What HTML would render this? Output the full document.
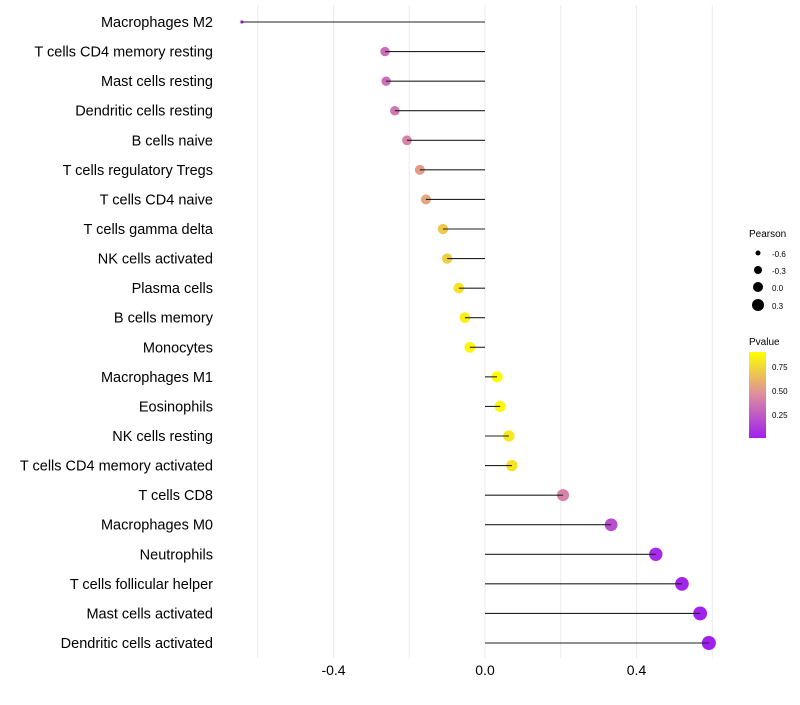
<!DOCTYPE html>
<html><head><meta charset="utf-8"><style>
body{margin:0;background:#fff;font-family:"Liberation Sans",sans-serif;}
svg text{font-family:"Liberation Sans",sans-serif;}
</style></head><body>
<svg id="chart" width="800" height="700">
<defs><linearGradient id="pg" x1="0" y1="1" x2="0" y2="0">
<stop offset="0" stop-color="#a020f0"/><stop offset="0.5" stop-color="#dc8ca0"/><stop offset="1" stop-color="#ffff00"/>
</linearGradient></defs>
<g id="grid"></g><g id="dots"></g><g id="marks"></g><g id="labels"></g><g id="ticks"></g>
<g>
<text x="749" y="237" font-size="10" fill="#000">Pearson</text>
<circle cx="758" cy="253" r="2.5" fill="#000"/><text x="772" y="257" font-size="8">-0.6</text>
<circle cx="758" cy="270" r="4" fill="#000"/><text x="772" y="274" font-size="8">-0.3</text>
<circle cx="758" cy="287" r="5" fill="#000"/><text x="772" y="291" font-size="8">0.0</text>
<circle cx="758" cy="305" r="6" fill="#000"/><text x="772" y="309" font-size="8">0.3</text>
</g>
<g>
<text x="749" y="345" font-size="10">Pvalue</text>
<rect x="749" y="352" width="17" height="86" fill="url(#pg)"/>
<text x="772" y="370" font-size="8">0.75</text>
<text x="772" y="394" font-size="8">0.50</text>
<text x="772" y="418" font-size="8">0.25</text>
</g>
</svg>
<script>
const categories=["Macrophages M2","T cells CD4 memory resting","Mast cells resting","Dendritic cells resting","B cells naive","T cells regulatory  Tregs","T cells CD4 naive","T cells gamma delta","NK cells activated","Plasma cells","B cells memory","Monocytes","Macrophages M1","Eosinophils","NK cells resting","T cells CD4 memory activated","T cells CD8","Macrophages M0","Neutrophils","T cells follicular helper","Mast cells activated","Dendritic cells activated"];
const pearson=[-0.642,-0.264,-0.261,-0.238,-0.206,-0.172,-0.156,-0.111,-0.100,-0.069,-0.053,-0.040,0.032,0.040,0.063,0.071,0.206,0.333,0.451,0.520,0.568,0.591];
const pvalues=[0.02,0.33,0.33,0.37,0.42,0.52,0.56,0.7,0.72,0.8,0.85,0.88,0.9,0.88,0.82,0.8,0.42,0.2,0.05,0.03,0.02,0.01];
const xTicks=[-0.4,0.0,0.4];
const xGrid=[-0.6,-0.4,-0.2,0,0.2,0.4,0.6];
const ns="http://www.w3.org/2000/svg";
const xs=v=>485+v*378.75;
const ys=i=>22+i*(643-22)/21;
function lerp(a,b,t){return a.map((c,k)=>Math.round(c+(b[k]-c)*t));}
function col(p){const t=Math.max(0,Math.min(1,(p-0.01)/0.9));const lo=[160,32,240],mid=[220,140,160],hi=[255,255,0];
const c=t<0.5?lerp(lo,mid,t/0.5):lerp(mid,hi,(t-0.5)/0.5);return `rgb(${c})`;}
function mk(tag,at,parent){const e=document.createElementNS(ns,tag);for(const k in at)e.setAttribute(k,at[k]);document.getElementById(parent).appendChild(e);return e;}
xGrid.forEach(v=>{const l=mk("line",{x1:xs(v),x2:xs(v),y1:5,y2:658,stroke:"#ebebeb","stroke-width":1},"grid");

});
categories.forEach((c,i)=>{const y=ys(i);
const s=mk("line",{x1:xs(0),x2:xs(pearson[i]),y1:y,y2:y,stroke:"#222","stroke-width":1.1},"marks");


const a=30.3+31.8*pearson[i];
const r=pearson[i]<-0.5?1.6:Math.sqrt(Math.max(2.5,a));
const d=mk("circle",{cx:xs(pearson[i]),cy:y,r:r,fill:col(pvalues[i])},"dots");


const t=mk("text",{x:213,y:y+5,"text-anchor":"end","font-size":14.5,fill:"#000"},"labels");t.textContent=c;

});
xTicks.forEach(v=>{const t=mk("text",{x:xs(v),y:675,"text-anchor":"middle","font-size":14,fill:"#000"},"ticks");t.textContent=v.toFixed(1);

});
</script>
</body></html>
